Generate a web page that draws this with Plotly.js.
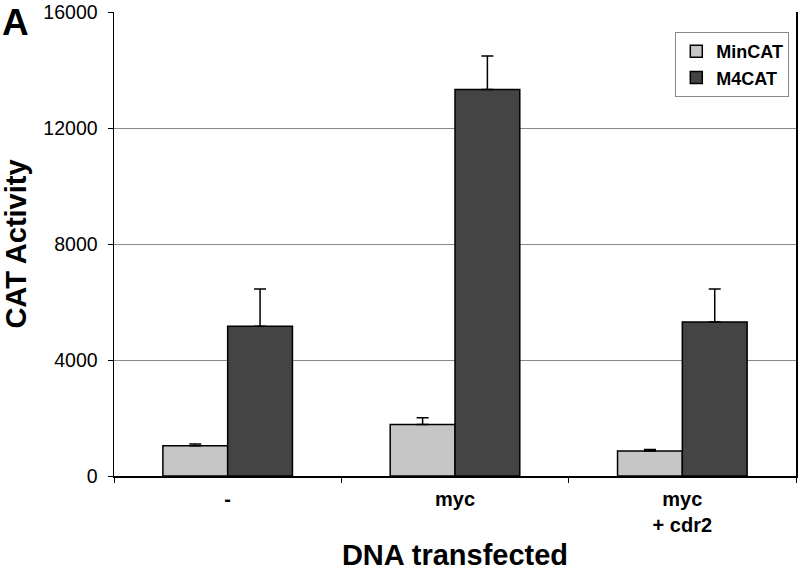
<!DOCTYPE html>
<html>
<head>
<meta charset="utf-8">
<script src="https://cdn.plot.ly/plotly-3.0.1.min.js"></script>
<style>
  html, body { margin: 0; padding: 0; background: #fff; }
  #chart { width: 800px; height: 571px; }
</style>
</head>
<body>
<div id="chart"></div>
<script>
// ---- data ----
const categories = ['-', 'myc', 'myc<br>+ cdr2'];
const seriesNames = ['MinCAT', 'M4CAT'];
const minCAT = [1040, 1780, 860];
const minCATErr = [60, 230, 50];
const m4CAT = [5160, 13330, 5310];
const m4CATErr = [1290, 1150, 1140];
const yTicks = [0, 4000, 8000, 12000, 16000];
const yTickLabels = ['0', '4000', '8000', '12000', '16000'];

const FONT = 'Liberation Sans, Arial, Helvetica, sans-serif';

function errorBar(vals) {
  return {
    type: 'data', symmetric: false, array: vals, arrayminus: vals.map(() => 0),
    color: '#000', thickness: 1.5, width: 6, visible: true
  };
}

const traces = [
  {
    type: 'bar', name: seriesNames[0], x: categories, y: minCAT,
    marker: { color: '#c6c6c6', line: { color: '#000', width: 1.5 } },
    error_y: errorBar(minCATErr)
  },
  {
    type: 'bar', name: seriesNames[1], x: categories, y: m4CAT,
    marker: { color: '#444444', line: { color: '#000', width: 1.5 } },
    error_y: errorBar(m4CATErr)
  }
];

const layout = {
  width: 800, height: 571,
  margin: { l: 114, r: 4, t: 12, b: 95 },
  paper_bgcolor: '#fff', plot_bgcolor: '#fff',
  barmode: 'group', bargap: 0.43, bargroupgap: 0,
  font: { family: FONT, color: '#000' },
  showlegend: true,
  legend: {
    x: 0.823, y: 0.957, xanchor: 'left', yanchor: 'top',
    bgcolor: '#fff', bordercolor: '#888', borderwidth: 1,
    font: { family: FONT, size: 18, weight: 'bold', color: '#000' },
    traceorder: 'normal', itemwidth: 30
  },
  xaxis: {
    type: 'category',
    showline: true, linecolor: '#000', linewidth: 1.5,
    ticks: 'outside', tickson: 'boundaries', ticklen: 5, tickcolor: '#000',
    ticklabelstandoff: 4,
    tickfont: { family: FONT, size: 20, weight: 'bold', color: '#000' },
    showgrid: false, zeroline: false,
    title: { text: 'DNA transfected', font: { family: FONT, size: 29, weight: 'bold', color: '#000' }, standoff: 14 }
  },
  yaxis: {
    range: [0, 16000], tickvals: yTicks, ticktext: yTickLabels,
    showline: true, linecolor: '#000', linewidth: 1.5, mirror: true,
    ticks: 'outside', ticklen: 5, tickcolor: '#000',
    ticklabelstandoff: 6,
    tickfont: { family: FONT, size: 19.5, color: '#000' },
    showgrid: true, gridcolor: '#8a8a8a', gridwidth: 1, zeroline: false,
    title: { text: 'CAT Activity', font: { family: FONT, size: 29, weight: 'bold', color: '#000' }, standoff: 14 }
  },
  annotations: [
    {
      text: 'A', xref: 'paper', yref: 'paper', x: -0.167, y: 1.026,
      xanchor: 'left', yanchor: 'top', showarrow: false,
      font: { family: FONT, size: 37, weight: 'bold', color: '#000' }
    }
  ]
};

Plotly.newPlot('chart', traces, layout, { displayModeBar: false, staticPlot: true });
</script>
</body>
</html>
